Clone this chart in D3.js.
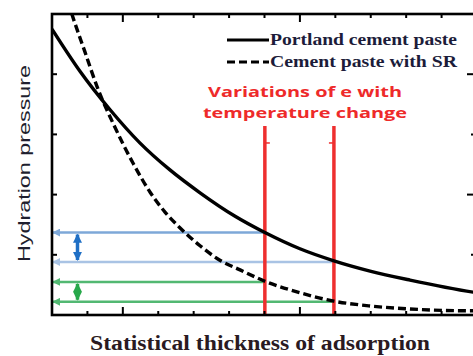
<!DOCTYPE html>
<html><head><meta charset="utf-8">
<script src="https://cdn.jsdelivr.net/npm/d3@7"></script>
<style>html,body{margin:0;padding:0;background:#fff;}svg{display:block;}</style>
</head><body>
<svg id="c" width="473" height="356"></svg>
<script>
// ---- data ----
const portlandX = [0, 0.79, 1.64, 2.48, 3.33, 4.18, 5.17, 6.01, 7.0, 7.96, 8.98, 10.11, 11.89, 12];
const portlandY = [4.75, 4.05, 3.41, 2.86, 2.41, 2.03, 1.64, 1.37, 1.10, 0.90, 0.73, 0.58, 0.38, 0.37];
const srX = [0.45, 0.56, 0.93, 1.30, 1.72, 2.29, 2.77, 3.19, 3.61, 4.18, 4.74, 5.31, 6.01, 7.0, 7.96, 8.98, 10.11, 11.89, 12];
const srY = [5.2, 5.0, 4.37, 3.75, 3.19, 2.52, 2.04, 1.71, 1.45, 1.15, 0.91, 0.75, 0.56, 0.37, 0.23, 0.15, 0.10, 0.07, 0.07];
const markerX = [6.01, 7.96];          // thickness at the two temperatures
const portlandLevels = [1.37, 0.88];   // pressure of Portland paste at markerX
const srLevels = [0.55, 0.22];         // pressure of paste with SR at markerX
const markerTop = 3.14;
const xTicks = d3.range(0, 13);
const xMajor = [2, 7];
const yTicks = [1, 2, 3, 4];
const yMajorRight = [2, 4];
const legendLabels = ["Portland cement paste", "Cement paste with SR"];
const annotation = ["Variations of e with", "temperature change"];
const xTitle = "Statistical thickness of adsorption";
const yTitle = "Hydration pressure";

// ---- layout ----
const svg = d3.select("#c");
const L = 52, T = 14, R = 477, B = 315;
const x = d3.scaleLinear().domain([0, 12]).range([L, R]);
const y = d3.scaleLinear().domain([0, 5]).range([B, T]);

const defs = svg.append("defs");
defs.append("clipPath").attr("id", "clip").append("rect")
  .attr("x", L).attr("y", T).attr("width", R - L).attr("height", B - T);
function marker(id, color, size) {
  defs.append("marker").attr("id", id).attr("viewBox", "0 0 10 10")
    .attr("refX", 9).attr("refY", 5).attr("markerUnits", "userSpaceOnUse")
    .attr("markerWidth", size).attr("markerHeight", size)
    .attr("orient", "auto-start-reverse")
    .append("path").attr("d", "M0,0L10,5L0,10Z").attr("fill", color);
}
marker("aBlue1", "#7ea8d8", 8);
marker("aBlue2", "#a9c3e4", 8);
marker("aGreen", "#52b872", 8);
marker("vBlue", "#1f6fc5", 9);
marker("vGreen", "#27a84a", 9);

const g = svg.append("g");

// horizontal level lines with arrows to the axis
const hCols = ["#7ea8d8", "#a9c3e4"];
portlandLevels.forEach((v, i) => {
  g.append("line").attr("x1", x(markerX[i])).attr("x2", L + 1)
    .attr("y1", y(v)).attr("y2", y(v))
    .attr("stroke", hCols[i]).attr("stroke-width", 2.5)
    .attr("marker-end", `url(#${i === 0 ? "aBlue1" : "aBlue2"})`);
});
srLevels.forEach((v, i) => {
  g.append("line").attr("x1", x(markerX[i])).attr("x2", L + 1)
    .attr("y1", y(v)).attr("y2", y(v))
    .attr("stroke", "#52b872").attr("stroke-width", 2.5)
    .attr("marker-end", "url(#aGreen)");
});
// vertical double arrows
const vx = x(0.72);
g.append("line").attr("x1", vx).attr("x2", vx)
  .attr("y1", y(portlandLevels[0]) + 2).attr("y2", y(portlandLevels[1]) - 2)
  .attr("stroke", "#1f6fc5").attr("stroke-width", 3.5)
  .attr("marker-start", "url(#vBlue)").attr("marker-end", "url(#vBlue)");
g.append("line").attr("x1", vx).attr("x2", vx)
  .attr("y1", y(srLevels[0]) + 2).attr("y2", y(srLevels[1]) - 2)
  .attr("stroke", "#27a84a").attr("stroke-width", 3.5)
  .attr("marker-start", "url(#vGreen)").attr("marker-end", "url(#vGreen)");

// red marker lines
markerX.forEach((v, i) => {
  g.append("line").attr("x1", x(v)).attr("x2", x(v))
    .attr("y1", y(markerTop)).attr("y2", B)
    .attr("stroke", "#ee2f2f").attr("stroke-width", 3.5);
  const dir = i === 0 ? 1 : -1;
  g.append("line").attr("x1", x(v)).attr("x2", x(v) + dir * 5)
    .attr("y1", y(markerTop) + 17).attr("y2", y(markerTop) + 17)
    .attr("stroke", "#ee2f2f").attr("stroke-width", 1.5);
});

// curves
const line = d3.line().x(d => x(d[0])).y(d => y(d[1])).curve(d3.curveMonotoneX);
const curves = g.append("g").attr("clip-path", "url(#clip)");
curves.append("path").datum(d3.zip(portlandX, portlandY)).attr("d", line)
  .attr("fill", "none").attr("stroke", "#000").attr("stroke-width", 3.4);
curves.append("path").datum(d3.zip(srX, srY)).attr("d", line)
  .attr("fill", "none").attr("stroke", "#000").attr("stroke-width", 3.4)
  .attr("stroke-dasharray", "8,4");

// frame and ticks
const ax = svg.append("g");
ax.append("rect").attr("x", L).attr("y", T).attr("width", R - L).attr("height", B - T)
  .attr("fill", "none").attr("stroke", "#000").attr("stroke-width", 2.6);
xTicks.forEach(t => {
  const len = xMajor.includes(t) ? 8 : 4;
  ax.append("line").attr("x1", x(t)).attr("x2", x(t)).attr("y1", B).attr("y2", B - len)
    .attr("stroke", "#000").attr("stroke-width", 2);
  ax.append("line").attr("x1", x(t)).attr("x2", x(t)).attr("y1", T).attr("y2", T + len)
    .attr("stroke", "#000").attr("stroke-width", 2);
});
yTicks.forEach(t => {
  ax.append("line").attr("x1", L).attr("x2", L + 5).attr("y1", y(t)).attr("y2", y(t))
    .attr("stroke", "#000").attr("stroke-width", 2);
  const len = yMajorRight.includes(t) ? 10 : 6;
  ax.append("line").attr("x1", R).attr("x2", R - len).attr("y1", y(t)).attr("y2", y(t))
    .attr("stroke", "#000").attr("stroke-width", 2);
});

// legend
const lg = svg.append("g");
[0, 1].forEach(i => {
  const ly = 40 + i * 22;
  lg.append("line").attr("x1", 227).attr("x2", 269).attr("y1", ly).attr("y2", ly)
    .attr("stroke", "#000").attr("stroke-width", 3)
    .attr("stroke-dasharray", i === 1 ? "8,4" : null);
  lg.append("text").attr("x", 270).attr("y", ly + 5).text(legendLabels[i])
    .attr("font-family", "Liberation Serif").attr("font-weight", "bold")
    .attr("font-size", 16).attr("fill", "#1c1c3a")
    .attr("textLength", 187).attr("lengthAdjust", "spacingAndGlyphs");
});

// annotation (two separate lines)
[[208, 97, 194], [203, 118, 204]].forEach((p, i) => {
  svg.append("text").attr("x", p[0]).attr("y", p[1]).text(annotation[i])
    .attr("font-family", "Open Sans").attr("font-weight", "bold")
    .attr("font-size", 15).attr("fill", "#ee2a2a")
    .attr("textLength", p[2]).attr("lengthAdjust", "spacingAndGlyphs");
});

// axis titles
svg.append("text").attr("x", 90).attr("y", 350).text(xTitle)
  .attr("font-family", "Liberation Serif").attr("font-weight", "bold")
  .attr("font-size", 20).attr("fill", "#2a1a22")
  .attr("textLength", 340).attr("lengthAdjust", "spacingAndGlyphs");
svg.append("text").attr("transform", "translate(30,262) rotate(-90)").text(yTitle)
  .attr("font-family", "Liberation Sans")
  .attr("font-size", 17).attr("fill", "#1e1e2e")
  .attr("textLength", 197).attr("lengthAdjust", "spacingAndGlyphs");
</script>
</body></html>
